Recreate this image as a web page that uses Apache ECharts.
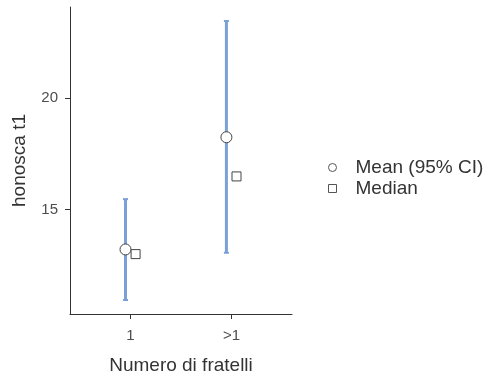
<!DOCTYPE html>
<html>
<head>
<meta charset="utf-8">
<script src="https://cdn.jsdelivr.net/npm/echarts@6/dist/echarts.min.js"></script>
<style>
  html, body { margin: 0; padding: 0; background: #fff; }
  #chart { width: 493px; height: 380px; }
</style>
</head>
<body>
<div id="chart"></div>
<script>
// Groups on the x axis
const categories = ['1', '>1'];
// Mean with its 95% confidence interval, per group
const meanValues = [13.21, 18.25];
const ciLower = [10.94, 13.06];
const ciUpper = [15.47, 23.47];
// Median per group
const medianValues = [13.0, 16.49];
// Y axis tick labels
const yTicks = [15, 20];

const FONT = '"Liberation Sans", Arial, sans-serif';
const BAR_COLOR = '#7ba0d6';
const MEAN_SHIFT = -0.05;   // mean and CI drawn slightly left of the group
const MEDIAN_SHIFT = 0.05;  // median drawn slightly right

const pos = categories.map((c, i) => i + 1);

const chart = echarts.init(document.getElementById('chart'), null, { renderer: 'canvas' });

chart.setOption({
  animation: false,
  backgroundColor: '#fff',
  textStyle: { fontFamily: FONT },
  grid: { left: 70, right: 201, top: 7, bottom: 66, containLabel: false },
  xAxis: {
    type: 'value',
    min: 0.4,
    max: 2.6,
    name: 'Numero di fratelli',
    nameLocation: 'middle',
    nameGap: 42,
    nameTextStyle: { fontSize: 19, color: '#333', fontFamily: FONT },
    axisLine: { show: true, lineStyle: { color: '#333', width: 1 } },
    axisTick: { show: true, length: 5, lineStyle: { color: '#333' }, customValues: pos },
    axisLabel: {
      fontSize: 15, color: '#4d4d4d', margin: 14, fontFamily: FONT,
      customValues: pos,
      formatter: v => categories[Math.round(v) - 1]
    },
    splitLine: { show: false }
  },
  yAxis: {
    type: 'value',
    min: 10.31,
    max: 24.1,
    name: 'honosca t1',
    nameLocation: 'middle',
    nameGap: 41,
    nameTextStyle: { fontSize: 19, color: '#333', fontFamily: FONT },
    axisLine: { show: true, lineStyle: { color: '#333', width: 1 } },
    axisTick: { show: true, length: 5, lineStyle: { color: '#333' }, customValues: yTicks },
    axisLabel: { fontSize: 15, color: '#4d4d4d', margin: 12, fontFamily: FONT, customValues: yTicks },
    splitLine: { show: false }
  },
  legend: {
    orient: 'vertical',
    left: 328,
    top: 158,
    padding: 0,
    itemWidth: 8,
    itemHeight: 8,
    itemGap: 2,
    textStyle: { fontSize: 19, color: '#333', lineHeight: 19, padding: [0, 0, 0, 14], fontFamily: FONT },
    data: [
      { name: 'Mean (95% CI)', icon: 'circle', itemStyle: { color: '#fff', borderColor: '#555', borderWidth: 1 } },
      { name: 'Median', icon: 'rect', itemStyle: { color: '#fff', borderColor: '#555', borderWidth: 1 } }
    ]
  },
  series: [
    {
      name: 'CI',
      type: 'custom',
      data: pos.map((p, i) => [p + MEAN_SHIFT, ciLower[i], ciUpper[i]]),
      renderItem: (params, api) => {
        const x = api.value(0);
        const lo = api.coord([x, api.value(1)]);
        const hi = api.coord([x, api.value(2)]);
        const cap = 2.5;
        const style = { stroke: BAR_COLOR, lineWidth: 3 };
        return {
          type: 'group',
          children: [
            { type: 'line', shape: { x1: lo[0], y1: lo[1], x2: hi[0], y2: hi[1] }, style },
            { type: 'line', shape: { x1: lo[0] - cap, y1: lo[1], x2: lo[0] + cap, y2: lo[1] }, style: { stroke: BAR_COLOR, lineWidth: 2 } },
            { type: 'line', shape: { x1: hi[0] - cap, y1: hi[1], x2: hi[0] + cap, y2: hi[1] }, style: { stroke: BAR_COLOR, lineWidth: 2 } }
          ]
        };
      },
      z: 2
    },
    {
      name: 'Mean (95% CI)',
      type: 'scatter',
      data: pos.map((p, i) => [p + MEAN_SHIFT, meanValues[i]]),
      symbol: 'circle',
      symbolSize: 11,
      itemStyle: { color: '#fff', borderColor: '#444', borderWidth: 1, opacity: 1 },
      z: 3
    },
    {
      name: 'Median',
      type: 'scatter',
      data: pos.map((p, i) => [p + MEDIAN_SHIFT, medianValues[i]]),
      symbol: 'rect',
      symbolSize: 9,
      itemStyle: { color: '#fff', borderColor: '#444', borderWidth: 1, opacity: 1 },
      z: 3
    }
  ]
});
</script>
</body>
</html>
